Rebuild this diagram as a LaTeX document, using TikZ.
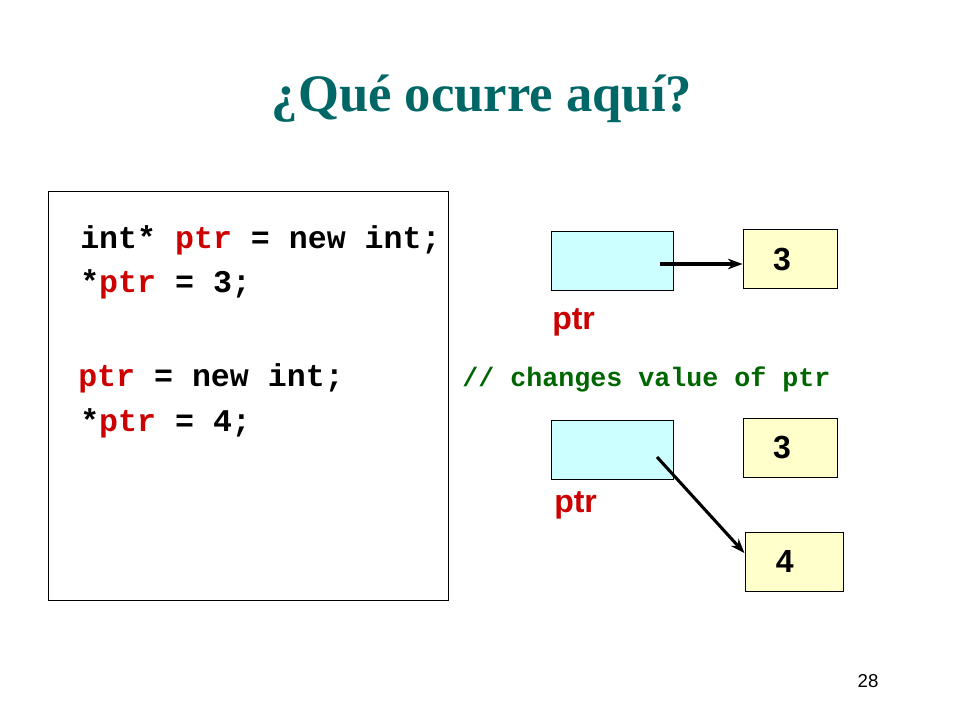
\documentclass[tikz,border=0pt]{standalone}
\usepackage{fontspec}
\setmainfont{Liberation Serif}
\newfontfamily\codefont{Liberation Mono}
\newfontfamily\armfont{Liberation Sans}
\usetikzlibrary{arrows.meta,calc}
\definecolor{titlecol}{HTML}{006666}
\definecolor{codered}{HTML}{CC0000}
\definecolor{commentgreen}{HTML}{006600}
\definecolor{ptrblue}{HTML}{CCFFFF}
\definecolor{valyellow}{HTML}{FFFFCC}
\begin{document}
\begin{tikzpicture}[x=0.75pt,y=-0.75pt,
  codeline/.style={anchor=west,inner sep=0pt,font=\codefont\bfseries\fontsize{23.7}{28}\selectfont},
  ptrbox/.style={draw=black,line width=0.75pt,fill=ptrblue,minimum width=91.5pt,minimum height=44.25pt,inner sep=0pt},
  valbox/.style={draw=black,line width=0.75pt,fill=valyellow,minimum width=70.5pt,minimum height=44.25pt,inner sep=0pt,font=\armfont\bfseries\fontsize{24}{28}\selectfont},
  ptrlabel/.style={anchor=west,inner sep=0pt,text=codered,font=\armfont\bfseries\fontsize{24}{28}\selectfont},
  pointer/.style={line width=2.3pt,-{Stealth[length=11pt,width=8pt]}}
]
\useasboundingbox (0,0) rectangle (960,720);
% title
\node[text=titlecol,font=\bfseries\fontsize{39.5}{46}\selectfont] (title) at (482,99) {¿Qué ocurre aquí?};
% code box
\node[draw=black,line width=0.75pt,minimum width=300pt,minimum height=306pt,inner sep=0pt] (codebox) at (248,396) {};
\node[codeline] (l1) at (80,240) {int* \textcolor{codered}{ptr} = new int;};
\node[codeline] (l2) at (80,284) {*\textcolor{codered}{ptr} = 3;};
\node[codeline] (l3) at (78,378) {\textcolor{codered}{ptr} = new int;};
\node[codeline] (l4) at (80,423) {*\textcolor{codered}{ptr} = 4;};
% comment
\node[anchor=west,inner sep=0pt,text=commentgreen,font=\codefont\bfseries\fontsize{20}{24}\selectfont] (comment) at (462,379) {// changes value of ptr};
% first state
\node[ptrbox] (p1) at (612,261.5) {};
\node[valbox] (v1) at (790,259.5) {\hspace*{-12pt}3};
\node[ptrlabel] (lab1) at (552,322) {ptr};
\coordinate (s1) at (660,264);
\draw[pointer] (s1) -- (v1.west |- s1);
% second state
\node[ptrbox] (p2) at (612,449.5) {};
\node[valbox] (v2) at (790,447.5) {\hspace*{-12pt}3};
\node[ptrlabel] (lab2) at (554,505) {ptr};
\node[valbox,minimum width=73.5pt] (v3) at (794,561.5) {\hspace*{-14pt}4};
\coordinate (s2) at (657,457);
\draw[pointer] (s2) -- ($(v3.north west)!0.36!(v3.south west)$);
% page number
\node[font=\armfont\fontsize{14}{16}\selectfont] (page) at (868,681) {28};
\end{tikzpicture}
\end{document}
